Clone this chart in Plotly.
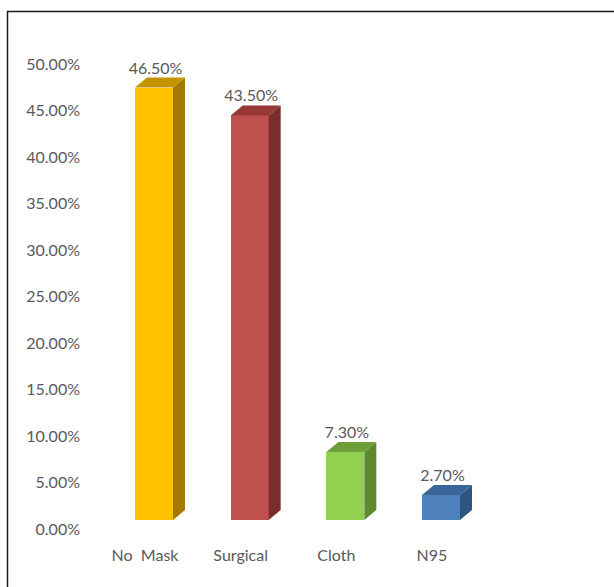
import plotly.graph_objects as go

categories = ["No  Mask", "Surgical", "Cloth", "N95"]
values = [46.5, 43.5, 7.3, 2.7]
labels = ["46.50%", "43.50%", "7.30%", "2.70%"]
front_colors = ["#FFC000", "#C0504D", "#92D050", "#4F81BD"]
side_colors = ["#A37A00", "#7A2E2C", "#5C8A2C", "#2E5480"]
top_colors = ["#C49300", "#953836", "#6E9E3A", "#3B669A"]
y_ticks = [0, 5, 10, 15, 20, 25, 30, 35, 40, 45, 50]

W, H = 614, 587
L, R, T, B = 100, 34, 32, 67
plot_w = W - L - R
plot_h = H - T - B
px_per_cat = 95.67
px_per_pct = 9.3
x_lo = -54 / px_per_cat
x_range = [x_lo, x_lo + plot_w / px_per_cat]
y_range = [0, plot_h / px_per_pct]

bar_w = 38 / px_per_cat
dx = 12 / px_per_cat
dy = 10 / px_per_pct
xs = list(range(len(categories)))

fig = go.Figure()
fig.add_trace(go.Bar(x=xs, y=values, width=bar_w, marker=dict(color=front_colors, line=dict(width=0)),
                     hoverinfo="skip", showlegend=False))

for i, v in enumerate(values):
    xl = xs[i] - bar_w / 2
    xr = xs[i] + bar_w / 2
    # side face
    fig.add_trace(go.Scatter(x=[xr, xr + dx, xr + dx, xr, xr], y=[0, dy, v + dy, v, 0],
                             fill="toself", fillcolor=side_colors[i], mode="lines",
                             line=dict(width=0, color=side_colors[i]), hoverinfo="skip", showlegend=False))
    # top face
    fig.add_trace(go.Scatter(x=[xl, xl + dx, xr + dx, xr, xl], y=[v, v + dy, v + dy, v, v],
                             fill="toself", fillcolor=top_colors[i], mode="lines",
                             line=dict(width=0, color=top_colors[i]), hoverinfo="skip", showlegend=False))

fig.add_trace(go.Scatter(x=[x + 1.5 / px_per_cat for x in xs], y=[v + dy for v in values], mode="text",
                         text=labels, textposition="top center",
                         textfont=dict(family="Lato", size=16, color="#595959"),
                         hoverinfo="skip", showlegend=False, cliponaxis=False))

fig.update_layout(
    width=W, height=H,
    margin=dict(l=L, r=R, t=T, b=B, pad=0),
    paper_bgcolor="white", plot_bgcolor="white",
    font=dict(family="Lato", size=16, color="#595959"),
    bargap=0,
    xaxis=dict(range=x_range, tickvals=xs, ticktext=categories, showgrid=False, zeroline=False,
               showline=False, ticks="", ticklabelshift=-9, ticklabelstandoff=24, fixedrange=True),
    yaxis=dict(range=y_range, tickvals=y_ticks, ticktext=[f"{t:.2f}%" for t in y_ticks],
               showgrid=False, zeroline=False, showline=False, ticks="", ticklabelshift=9,
               ticklabelstandoff=19, fixedrange=True),
    shapes=[dict(type="rect", xref="paper", yref="paper",
                 x0=(7.5 - L) / plot_w, x1=(W + 10 - L) / plot_w,
                 y0=(plot_h + T - (H + 10)) / plot_h, y1=(plot_h + T - 11.5) / plot_h,
                 line=dict(color="#1A1A1A", width=1.5), fillcolor="rgba(0,0,0,0)", layer="below")],
)

fig.write_html("out.html")
